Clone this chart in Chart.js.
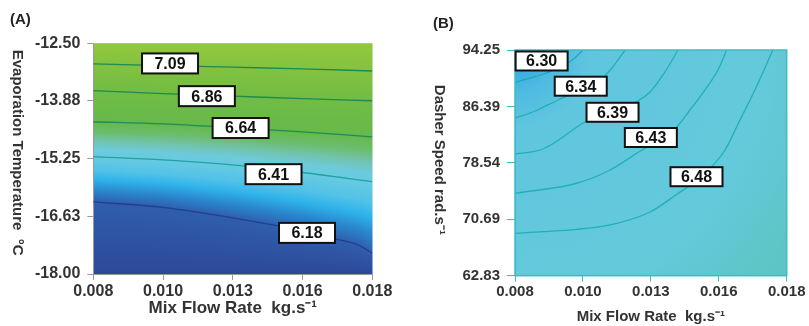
<!DOCTYPE html>
<html><head><meta charset="utf-8">
<script src="https://cdn.jsdelivr.net/npm/chart.js@4"></script>
<style>
html,body{margin:0;padding:0;background:#fff;}
#wrap{position:relative;width:809px;height:326px;overflow:hidden;}
canvas{position:absolute;top:0;}
#ca{left:0;} #cb{left:400px;}
</style></head><body>
<div id="wrap"><canvas id="ca" width="400" height="326"></canvas><canvas id="cb" width="409" height="326"></canvas></div>
<script>
// ---------- data ----------
const xTickValues = [0.008, 0.0105, 0.013, 0.0155, 0.018];
const xTickLabels = ['0.008', '0.010', '0.013', '0.016', '0.018'];
const yTickValuesA = [-18.00, -16.625, -15.25, -13.875, -12.50];
const yTickLabelsA = ['-18.00', '-16.63', '-15.25', '-13.88', '-12.50'];
const yTickValuesB = [62.83, 70.685, 78.54, 86.395, 94.25];
const yTickLabelsB = ['62.83', '70.69', '78.54', '86.39', '94.25'];

// Panel A contours: [mix flow rate, evaporation temperature]
const levelsA = ['7.09', '6.86', '6.64', '6.41', '6.18'];
const contourA709 = [[0.008,-12.99],[0.0105,-13.03],[0.013,-13.07],[0.0155,-13.11],[0.018,-13.16]];
const contourA686 = [[0.008,-13.63],[0.0105,-13.70],[0.013,-13.76],[0.0155,-13.82],[0.018,-13.87]];
const contourA664 = [[0.008,-14.37],[0.0105,-14.42],[0.013,-14.51],[0.0155,-14.61],[0.018,-14.73]];
const contourA641 = [[0.008,-15.20],[0.0105,-15.28],[0.013,-15.40],[0.0155,-15.58],[0.018,-15.80]];
const contourA618 = [[0.008,-16.28],[0.0105,-16.41],[0.013,-16.66],[0.0155,-16.97],[0.0165,-17.14],[0.0175,-17.31],[0.018,-17.50]];
const labelXA = [0.01075, 0.01207, 0.01328, 0.01446, 0.01566];
const labelYA = [-12.98, -13.76, -14.52, -15.62, -17.02];

// Panel B contours: [mix flow rate, dasher speed]
const levelsB = ['6.30', '6.34', '6.39', '6.43', '6.48'];
const contourB630 = [[0.008,89.75],[0.00855,90.35],[0.0091,90.98],[0.0097,91.88],[0.0102,93.14],[0.0105,94.25]];
const contourB634 = [[0.008,84.78],[0.00874,85.76],[0.00953,87.19],[0.01039,88.68],[0.01113,90.07],[0.01157,91.74],[0.01205,94.25]];
const contourB639 = [[0.008,79.77],[0.00903,80.47],[0.01064,84.37],[0.01253,87.19],[0.01297,88.40],[0.01352,91.19],[0.0140,94.25]];
const contourB643 = [[0.008,74.30],[0.01027,75.70],[0.0115,77.55],[0.01248,79.87],[0.01395,83.53],[0.01444,85.90],[0.01499,88.68],[0.01547,91.47],[0.01579,94.25]];
const contourB648 = [[0.008,68.73],[0.01027,69.29],[0.0115,69.89],[0.01297,71.70],[0.01401,74.30],[0.01437,75.22],[0.01524,78.01],[0.01573,80.33],[0.01628,84.50],[0.01683,88.68],[0.01749,94.25]];
const labelXB = [0.00898, 0.01042, 0.01159, 0.0130, 0.01468];
const labelYB = [92.72, 89.21, 85.58, 82.07, 76.61];

const contoursA = [contourA709, contourA686, contourA664, contourA641, contourA618];
const contoursB = [contourB630, contourB634, contourB639, contourB643, contourB648];

// ---------- helpers / plugins ----------
const FONT = "'Liberation Sans', Arial, Helvetica, sans-serif";

function interpY(pts, x) {
  if (x <= pts[0][0]) return pts[0][1];
  for (let i = 1; i < pts.length; i++) {
    if (x <= pts[i][0]) {
      const t = (x - pts[i-1][0]) / (pts[i][0] - pts[i-1][0]);
      return pts[i-1][1] + t * (pts[i][1] - pts[i-1][1]);
    }
  }
  return pts[pts.length-1][1];
}

// Background of panel A: colour bands that follow the contour lines
const bgContourPlugin = {
  id: 'bgContour',
  beforeDraw(chart, args, opts) {
    const {ctx, chartArea: ca, scales} = chart;
    const stops = opts.stops;
    const H = ca.bottom - ca.top;
    ctx.save();
    for (let px = ca.left; px < ca.right; px += 2) {
      const xv = scales.x.getValueForPixel(Math.min(px + 1, ca.right));
      const yc = contoursA.map(c => scales.y.getPixelForValue(interpY(c, xv)));
      const pos = t => {
        if (t <= 0) return ca.top + (t + 1) * (yc[0] - ca.top);
        if (t >= yc.length - 1) return yc[yc.length-1] + (t - (yc.length - 1)) * (ca.bottom - yc[yc.length-1]);
        const i = Math.floor(t), f = t - i;
        return yc[i] + f * (yc[i+1] - yc[i]);
      };
      const g = ctx.createLinearGradient(0, ca.top, 0, ca.bottom);
      let last = 0;
      stops.forEach(s => {
        let o = (pos(s[0]) - ca.top) / H;
        o = Math.max(last, Math.min(1, o));
        last = o;
        g.addColorStop(o, s[1]);
      });
      ctx.fillStyle = g;
      ctx.fillRect(px, ca.top, Math.min(3, ca.right - px), H);
    }
    ctx.restore();
  }
};

// Background of panel B: radial shading from the top-left corner
const bgRadialPlugin = {
  id: 'bgRadial',
  beforeDraw(chart, args, opts) {
    const {ctx, chartArea: ca} = chart;
    const r = Math.hypot(ca.right - ca.left, ca.bottom - ca.top);
    const g = ctx.createRadialGradient(ca.left, ca.top, 0, ca.left, ca.top, r);
    opts.stops.forEach(s => g.addColorStop(s[0], s[1]));
    ctx.save();
    ctx.fillStyle = g;
    ctx.fillRect(ca.left, ca.top, ca.right - ca.left, ca.bottom - ca.top);
    ctx.restore();
  },
  afterDatasetsDraw(chart, args, opts) {
    const {ctx, chartArea: ca} = chart;
    ctx.save();
    ctx.strokeStyle = opts.frame;
    ctx.lineWidth = 1.5;
    ctx.strokeRect(ca.left, ca.top, ca.right - ca.left, ca.bottom - ca.top);
    ctx.restore();
  }
};

// Boxed contour-level labels
const contourLabelPlugin = {
  id: 'contourLabels',
  afterDatasetsDraw(chart, args, opts) {
    const {ctx, scales} = chart;
    ctx.save();
    ctx.font = `bold ${opts.size}px ${FONT}`;
    ctx.textAlign = 'center';
    ctx.textBaseline = 'middle';
    opts.texts.forEach((t, i) => {
      const px = scales.x.getPixelForValue(opts.xs[i]);
      const py = scales.y.getPixelForValue(opts.ys[i]);
      const w = opts.w, h = opts.h;
      ctx.fillStyle = '#ffffff';
      ctx.fillRect(px - w/2, py - h/2, w, h);
      ctx.lineWidth = 2;
      ctx.strokeStyle = '#111111';
      ctx.strokeRect(px - w/2, py - h/2, w, h);
      ctx.fillStyle = '#111111';
      ctx.fillText(t, px, py + 1);
    });
    ctx.restore();
  }
};

// Y-axis title reading top-to-bottom
const vTitlePlugin = {
  id: 'vTitle',
  afterDraw(chart, args, opts) {
    const {ctx, chartArea: ca} = chart;
    ctx.save();
    ctx.translate(opts.x, (ca.top + ca.bottom) / 2 + opts.dy);
    ctx.rotate(Math.PI / 2);
    ctx.font = `bold ${opts.size}px ${FONT}`;
    ctx.fillStyle = '#333333';
    ctx.textAlign = 'center';
    ctx.textBaseline = 'middle';
    ctx.fillText(opts.text, 0, 0);
    ctx.restore();
  }
};

function makeChart(id, cfg) {
  const datasets = cfg.contours.map((c, i) => ({
    label: cfg.levels[i],
    data: c.map(p => ({x: p[0], y: p[1]})),
    borderColor: cfg.lineColors[i],
    borderWidth: 1.3,
    pointRadius: 0,
    cubicInterpolationMode: 'monotone',
    fill: false
  }));
  return new Chart(document.getElementById(id), {
    type: 'line',
    data: {datasets},
    options: {
      responsive: false,
      animation: false,
      devicePixelRatio: 1,
      layout: {padding: cfg.padding},
      plugins: {
        legend: {display: false},
        tooltip: {enabled: false},
        title: {display: true, text: cfg.panel, align: 'start', color: '#222',
                font: {family: FONT, size: 15, weight: 'bold'}, padding: cfg.titlePad},
        contourLabels: {texts: cfg.levels, xs: cfg.labelX, ys: cfg.labelY, size: cfg.labelSize, w: cfg.boxW, h: cfg.boxH},
        vTitle: cfg.vTitle,
        bgContour: cfg.bgContour || {},
        bgRadial: cfg.bgRadial || {}
      },
      scales: {
        x: {
          type: 'linear', min: 0.008, max: 0.018,
          afterBuildTicks: s => { s.ticks = xTickValues.map(v => ({value: v})); },
          afterFit: s => { s.height = cfg.xAxisH; },
          ticks: {callback: (v, i) => xTickLabels[i], color: '#333', autoSkip: false, maxRotation: 0,
                  font: {family: FONT, size: cfg.tickSize, weight: 'bold'}, padding: cfg.xTickPad},
          grid: {drawOnChartArea: false, drawTicks: true, tickLength: 6, color: cfg.axisColor},
          border: {display: true, color: cfg.axisColor},
          title: {display: true, text: 'Mix Flow Rate  kg.s⁻¹', color: '#333',
                  font: {family: FONT, size: cfg.xTitleSize, weight: 'bold'}, padding: {top: 0, bottom: cfg.xTitlePad}}
        },
        y: {
          type: 'linear', min: cfg.yVals[0], max: cfg.yVals[cfg.yVals.length - 1],
          afterBuildTicks: s => { s.ticks = cfg.yVals.map(v => ({value: v})); },
          afterFit: s => { s.width = cfg.yAxisW; },
          ticks: {callback: (v, i) => cfg.yLabels[i], color: '#333', autoSkip: false,
                  font: {family: FONT, size: cfg.tickSize, weight: 'bold'}, padding: 7},
          grid: {drawOnChartArea: false, drawTicks: true, tickLength: cfg.yTick, color: cfg.axisColor},
          border: {display: true, color: cfg.axisColor},
          title: {display: false}
        }
      }
    },
    plugins: cfg.plugins
  });
}

makeChart('ca', {
  panel: '(A)',
  contours: contoursA, levels: levelsA, labelX: labelXA, labelY: labelYA,
  lineColors: ['#1d8a4e', '#1d8a4e', '#1f8c55', '#22a0a4', '#233f8e'],
  padding: {left: 10, right: 27.7, top: 0, bottom: 0},
  titlePad: {top: 11, bottom: 14.3},
  yVals: yTickValuesA, yLabels: yTickLabelsA,
  yAxisW: 83.3, xAxisH: 52, yTick: 6,
  tickSize: 16, xTitleSize: 17, xTitlePad: 7, xTickPad: 2,
  labelSize: 16, boxW: 56, boxH: 20,
  axisColor: '#9a9a9a',
  vTitle: {text: 'Evaporation Temperature  °C', x: 17, dy: -6, size: 15},
  bgContour: {stops: [[-1,'#93c83c'],[0,'#83c240'],[1,'#71bc44'],[2,'#66b94c'],[2.3,'#6bbd6e'],[2.55,'#72c3ad'],[2.8,'#6ccadb'],[3,'#68cbe0'],[3.3,'#52c2e8'],[3.5,'#2fb3ea'],[3.75,'#2a86cc'],[4,'#2f5ead'],[5,'#2e4898']]},
  plugins: [bgContourPlugin, contourLabelPlugin, vTitlePlugin]
});

makeChart('cb', {
  panel: '(B)',
  contours: contoursB, levels: levelsB, labelX: labelXB, labelY: labelYB,
  lineColors: ['#1aa9ba', '#1fb0b8', '#1fb0b8', '#1fb0b8', '#1fb0b8'],
  padding: {left: 33, right: 22.3, top: 0, bottom: 0},
  titlePad: {top: 15, bottom: 17},
  yVals: yTickValuesB, yLabels: yTickLabelsB,
  yAxisW: 82, xAxisH: 50.3, yTick: 8,
  tickSize: 15, xTitleSize: 15, xTitlePad: 0, xTickPad: 1,
  labelSize: 16, boxW: 52, boxH: 19,
  axisColor: '#3dbcc4',
  vTitle: {text: 'Dasher Speed rad.s⁻¹', x: 39, dy: -3, size: 15},
  bgRadial: {stops: [[0,'#2a9de3'],[0.05,'#38a9e3'],[0.12,'#4fbbe1'],[0.22,'#60c6df'],[0.7,'#64c9da'],[1,'#5cc4c2']], frame: '#3dbcc4'},
  plugins: [bgRadialPlugin, contourLabelPlugin, vTitlePlugin]
});
</script>
</body></html>
